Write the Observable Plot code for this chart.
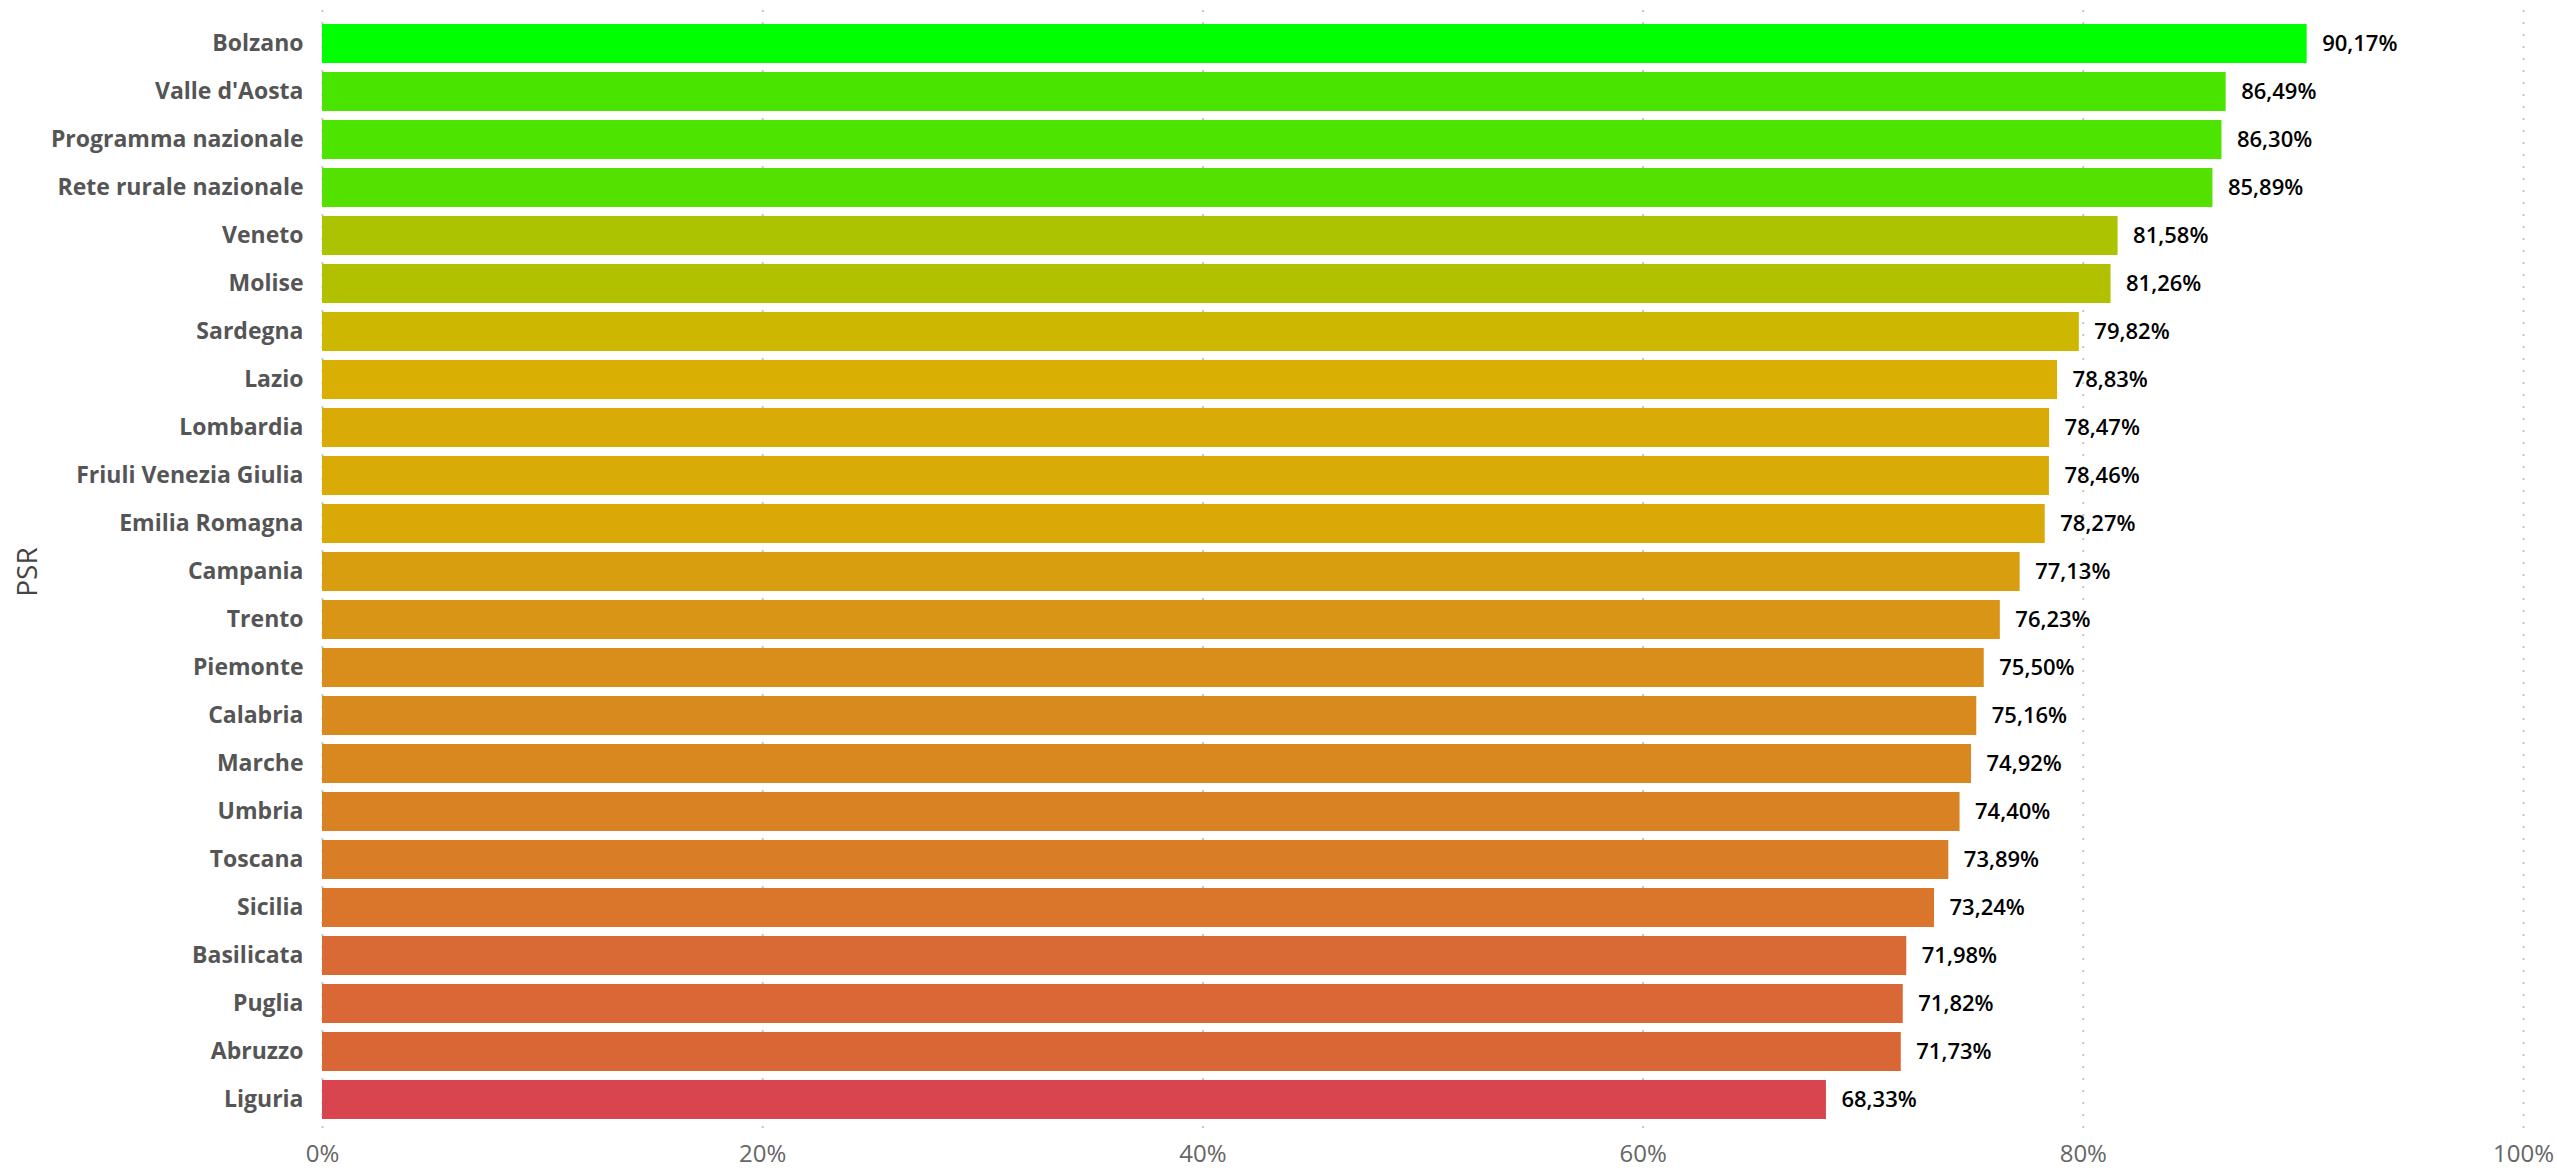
<!DOCTYPE html>
<html><head><meta charset="utf-8">
<script src="https://cdn.jsdelivr.net/npm/d3@7"></script>
<script src="https://cdn.jsdelivr.net/npm/@observablehq/plot@0.6"></script>
<style>html,body{margin:0;padding:0;background:#fff;overflow:hidden;}</style>
</head><body><div id="chart"></div>
<script>
const categories = ["Bolzano","Valle d'Aosta","Programma nazionale","Rete rurale nazionale","Veneto","Molise","Sardegna","Lazio","Lombardia","Friuli Venezia Giulia","Emilia Romagna","Campania","Trento","Piemonte","Calabria","Marche","Umbria","Toscana","Sicilia","Basilicata","Puglia","Abruzzo","Liguria"];
const values = [90.17,86.49,86.30,85.89,81.58,81.26,79.82,78.83,78.47,78.46,78.27,77.13,76.23,75.50,75.16,74.92,74.40,73.89,73.24,71.98,71.82,71.73,68.33];
const xTicks = [0,20,40,60,80,100];
const axisTitle = "PSR";

const it = d3.formatLocale({decimal: ",", thousands: ".", grouping: [3], currency: ["€", ""]});
const fmt = it.format(".2f");
const data = categories.map((c, i) => ({psr: c, value: values[i]}));
const [vmin, vmax] = d3.extent(values);
const vmid = (vmin + vmax) / 2;

const chart = Plot.plot({
  width: 2557, height: 1172,
  marginLeft: 322, marginRight: 34, marginTop: 15, marginBottom: 44,
  style: {fontFamily: "'Open Sans', sans-serif", background: "#fff"},
  x: {domain: [0, 100]},
  y: {domain: categories, padding: 0.1875},
  color: {type: "linear", domain: [vmin, vmid, vmax], range: ["#D9454F", "#D9B300", "#00FF00"], interpolate: "rgb"},
  marks: [
    Plot.ruleX(xTicks, {stroke: "#c6c6c6", strokeWidth: 2, strokeDasharray: "2,10", insetTop: -5, insetBottom: -10}),
    Plot.barX(data, {x: "value", y: "psr", fill: "value"}),
    Plot.text(data, {x: "value", y: "psr", text: d => fmt(d.value) + "%", dx: 15, textAnchor: "start", fontSize: 22, fontWeight: 600, fill: "#000"}),
    Plot.axisX({ticks: xTicks, tickSize: 0, tickPadding: 16, fontSize: 24, color: "#666", label: null, tickFormat: d => d + "%"}),
    Plot.axisY({tickSize: 0, tickPadding: 19, fontSize: 23, fontWeight: 700, color: "#555", label: null}),
    Plot.text([axisTitle], {frameAnchor: "left", dx: -294, rotate: -90, textAnchor: "middle", fontSize: 28, fill: "#444"})
  ]
});
document.getElementById("chart").appendChild(chart);
</script>
</body></html>
